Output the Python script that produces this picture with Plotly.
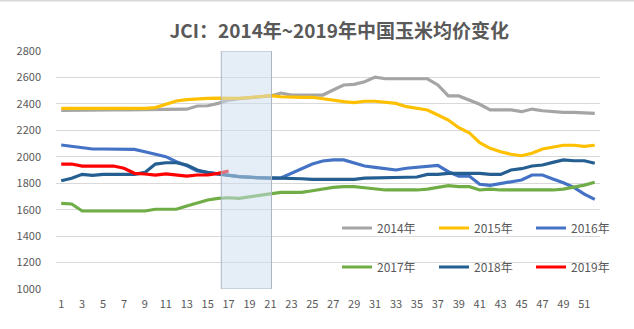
import plotly.graph_objects as go

weeks = list(range(1, 53))

y2014 = [2350, 2352, 2354, 2354, 2354, 2354, 2354, 2354, 2354, 2354, 2354, 2354, 2360, 2384, 2386, 2404,
         2429, 2440, 2445, 2452, 2460, 2482, 2467, 2467, 2467, 2467, 2505, 2543, 2548, 2568, 2603, 2590,
         2590, 2590, 2590, 2590, 2543, 2460, 2460, 2430, 2397, 2354, 2354, 2354, 2341, 2361, 2348, 2339,
         2336, 2336, 2333, 2328]
y2015 = [2366, 2366, 2366, 2364, 2360, 2364, 2366, 2366, 2366, 2372, 2400, 2422, 2432, 2440, 2442, 2444,
         2444, 2442, 2448, 2455, 2462, 2454, 2450, 2450, 2450, 2437, 2430, 2417, 2410, 2420, 2420, 2412,
         2404, 2379, 2365, 2354, 2316, 2278, 2220, 2182, 2106, 2064, 2038, 2019, 2008, 2026, 2059, 2076,
         2087, 2087, 2079, 2087]
y2016 = [2089, 2081, 2069, 2059, 2059, 2059, 2059, 2056, 2038, 2019, 2001, 1963, 1933, 1892, 1880, 1870,
         1862, 1850, 1846, 1840, 1837, 1840, 1875, 1905, 1945, 1968, 1976, 1976, 1951, 1930, 1920, 1907,
         1900, 1913, 1922, 1930, 1935, 1887, 1854, 1854, 1792, 1784, 1799, 1811, 1824, 1862, 1862, 1832,
         1804, 1769, 1718, 1678]
y2017 = [1648, 1643, 1590, 1590, 1590, 1590, 1590, 1590, 1590, 1603, 1603, 1603, 1628, 1648, 1673, 1686,
         1690, 1686, 1698, 1711, 1724, 1731, 1731, 1731, 1743, 1756, 1769, 1774, 1774, 1766, 1756, 1749,
         1749, 1749, 1749, 1756, 1769, 1781, 1774, 1774, 1749, 1756, 1749, 1749, 1749, 1749, 1749, 1749,
         1756, 1769, 1786, 1807]
y2018 = [1819, 1837, 1867, 1860, 1867, 1867, 1867, 1867, 1882, 1945, 1955, 1955, 1938, 1900, 1880, 1867,
         1860, 1850, 1842, 1840, 1840, 1840, 1840, 1834, 1829, 1829, 1829, 1829, 1829, 1839, 1839, 1839,
         1839, 1845, 1847, 1867, 1867, 1875, 1875, 1875, 1875, 1867, 1867, 1900, 1910, 1930, 1938, 1958,
         1976, 1970, 1970, 1951]
y2019 = [1945, 1945, 1930, 1930, 1930, 1930, 1913, 1875, 1870, 1862, 1870, 1862, 1854, 1862, 1862, 1875,
         1892]

names = ["2014年", "2015年", "2016年", "2017年", "2018年", "2019年"]
values = [y2014, y2015, y2016, y2017, y2018, y2019]
colors = ["#A5A5A5", "#FFC000", "#4472C4", "#70AD47", "#255E91", "#FF0000"]

y_ticks = list(range(1000, 2801, 200))
x_ticks = list(range(1, 52, 2))
highlight = (16.3, 21.1)

# legend grid placement (paper coords): 3 columns x 2 rows
leg_cols = [0.5165, 0.6949, 0.8732]
leg_rows = [0.2563, 0.0924]

font_family = "Noto Sans CJK SC, Noto Sans, sans-serif"

fig = go.Figure()
legend_layout = {}
for i, (name, vals, color) in enumerate(zip(names, values, colors)):
    key = "legend" if i == 0 else f"legend{i + 1}"
    fig.add_trace(go.Scatter(
        x=weeks[:len(vals)], y=vals, name=name, mode="lines",
        line=dict(color=color, width=3.2), legend=key,
    ))
    legend_layout[key] = dict(
        x=leg_cols[i % 3], y=leg_rows[i // 3], xanchor="left", yanchor="middle",
        orientation="h", bgcolor="rgba(0,0,0,0)", borderwidth=0,
        font=dict(size=12, color="#595959", family=font_family),
    )

fig.add_shape(type="rect", xref="x", yref="y",
              x0=highlight[0], x1=highlight[1], y0=y_ticks[0], y1=y_ticks[-1],
              fillcolor="rgba(204,222,240,0.5)",
              line=dict(color="#ADB5C2", width=1), layer="above")

fig.add_shape(type="line", xref="paper", yref="paper", x0=-0.2, x1=1.2, y0=1.212, y1=1.212,
              line=dict(color="#D9D9D9", width=2), layer="below")

fig.update_layout(
    width=634, height=329,
    margin=dict(l=56, r=34, t=51, b=40),
    paper_bgcolor="white", plot_bgcolor="white",
    font=dict(family=font_family, color="#595959", size=11),
    title=dict(text="<b>JCI：2014年~2019年中国玉米均价变化</b>",
               x=0.535, xanchor="center", y=0.905, yanchor="middle",
               font=dict(size=19, color="#595959", family=font_family)),
    xaxis=dict(range=[0.5, 52.5], tickmode="array", tickvals=x_ticks,
               ticktext=[str(v) for v in x_ticks], showgrid=False, zeroline=False,
               showline=False, ticks="", ticklabelstandoff=7,
               tickfont=dict(size=11, color="#595959")),
    yaxis=dict(range=[y_ticks[0], y_ticks[-1]], tickmode="array", tickvals=y_ticks,
               showgrid=True, gridcolor="#D9D9D9", gridwidth=1, zeroline=False,
               showline=False, ticks="", ticklabelstandoff=14,
               tickfont=dict(size=11, color="#595959")),
    showlegend=True,
    **legend_layout,
)

fig.write_html("out.html")
